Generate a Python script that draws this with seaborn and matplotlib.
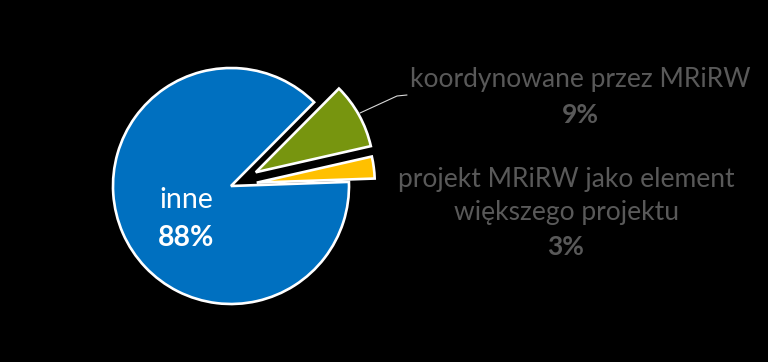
import matplotlib
matplotlib.use("Agg")
import matplotlib.pyplot as plt
import seaborn as sns

categories = ["inne", "koordynowane przez MRiRW", "projekt MRiRW jako element\nwiększego projektu"]
values = [88, 9, 3]
pct_labels = ["88%", "9%", "3%"]
colors = ["#0070C0", "#77950F", "#FFC000"]

sns.set_theme(style="white")
plt.rcParams['font.family'] = ['Lato', 'DejaVu Sans']

fig = plt.figure(figsize=(7.68, 3.62), dpi=100, facecolor="black")
ax = fig.add_axes([0, 0, 1, 1])
ax.set_facecolor("black")

palette = sns.color_palette(colors)
wedges, _ = ax.pie(values, colors=palette, startangle=2, counterclock=False,
                   explode=[0, 0.24, 0.22],
                   wedgeprops=dict(edgecolor="white", linewidth=1.9))

R = 118.0
cx, cy = 231.0, 176.0
ax.set_xlim(-cx / R, (768 - cx) / R)
ax.set_ylim(-cy / R, (362 - cy) / R)
ax.set_aspect("auto")
ax.axis("off")

def px(x, y):
    # pixel (from top-left) -> data coords
    return (x - cx) / R, ((362 - y) - cy) / R

gray = "#595959"
fs = 19
# inne
ax.text(*px(186, 200), categories[0], color="white", fontsize=20.5, ha="center", va="center")
ax.text(*px(186, 238), pct_labels[0], color="white", fontsize=20.5, ha="center", va="center", fontweight="bold")
# koordynowane
ax.text(*px(580, 80), categories[1], color=gray, fontsize=fs, ha="center", va="center")
ax.text(*px(580, 115), pct_labels[1], color=gray, fontsize=fs, ha="center", va="center", fontweight="bold")
# projekt
ax.text(*px(566, 196), categories[2], color=gray, fontsize=fs, ha="center", va="center", linespacing=1.4)
ax.text(*px(566, 247), pct_labels[2], color=gray, fontsize=fs, ha="center", va="center", fontweight="bold")

# leader line
lx = [px(360, 113)[0], px(397, 96)[0], px(407, 95)[0]]
ly = [px(360, 113)[1], px(397, 96)[1], px(407, 95)[1]]
ax.plot(lx, ly, color="#D9D9D9", linewidth=0.8)

fig.savefig("out.png", dpi=100, facecolor="black")
